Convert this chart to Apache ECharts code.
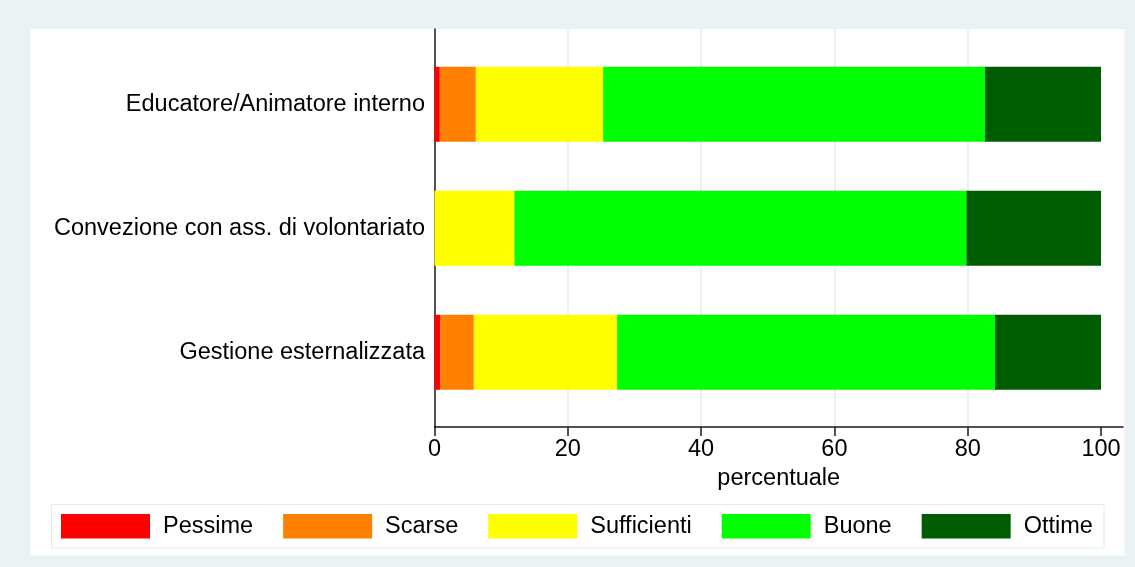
<!DOCTYPE html>
<html>
<head>
<meta charset="utf-8">
<script src="https://cdn.jsdelivr.net/npm/echarts@6/dist/echarts.min.js"></script>
<style>
  html, body { margin: 0; padding: 0; background: #eaf2f3; }
  #chart { width: 1135px; height: 567px; }
</style>
</head>
<body>
<div id="chart"></div>
<script>
// dati (percentuali)
var categories = ['Educatore/Animatore interno', 'Convezione con ass. di volontariato', 'Gestione esternalizzata']
var levels = ['Pessime', 'Scarse', 'Sufficienti', 'Buone', 'Ottime']
var pessime = [0.8, 0, 0.9]
var scarse = [5.4, 0, 5.0]
var sufficienti = [19.1, 12.0, 21.5]
var buone = [57.3, 67.8, 56.7]
var ottime = [17.4, 20.2, 15.9]
var xTicks = [0, 20, 40, 60, 80, 100]

var colors = ['#ff0000', '#ff8000', '#ffff00', '#00ff00', '#005c00']
var font = 'Liberation Sans, Arial, Helvetica, sans-serif'
var xMax = 103.3

var chart = echarts.init(document.getElementById('chart'))

function barSeries(name, values) {
  return {
    name: name,
    type: 'bar',
    stack: 'tot',
    barWidth: 75,
    xAxisIndex: 0,
    yAxisIndex: 0,
    data: values,
    itemStyle: { borderWidth: 0 },
    emphasis: { disabled: true }
  }
}

var option = {
  backgroundColor: '#eaf2f3',
  animation: false,
  color: colors,
  textStyle: { fontFamily: font },
  graphic: [
    { type: 'rect', z: -10, shape: { x: 30.5, y: 29, width: 1094, height: 526.5 }, style: { fill: '#ffffff' } },
    { type: 'rect', z: -9, shape: { x: 51.5, y: 504.5, width: 1052.5, height: 43.5 }, style: { fill: '#ffffff', stroke: '#e2ebee', lineWidth: 1 } }
  ],
  grid: [
    // barre
    { left: 434.5, right: 12, top: 42.3, bottom: 152.7 },
    // assi
    { left: 434.5, right: 12, top: 29, bottom: 140 }
  ],
  legend: {
    data: levels,
    left: 61,
    top: 514,
    padding: 0,
    itemWidth: 89,
    itemHeight: 24.5,
    itemGap: 30,
    icon: 'rect',
    selectedMode: false,
    textStyle: { fontSize: 23.5, color: '#000', fontFamily: font, padding: [0, 0, 0, 8] }
  },
  xAxis: [
    {
      gridIndex: 0, type: 'value', min: 0, max: xMax, show: false
    },
    {
      gridIndex: 1, type: 'value', min: 0, max: xMax, interval: 20,
      name: 'percentuale', nameLocation: 'middle', nameGap: 38.5,
      nameTextStyle: { fontSize: 23.5, color: '#000', fontFamily: font },
      axisLine: { show: true, onZero: false, lineStyle: { color: '#1a1a1a', width: 1.5 } },
      axisTick: { show: true, length: 9, customValues: xTicks, lineStyle: { color: '#1a1a1a', width: 1.5 } },
      axisLabel: { fontSize: 23.5, color: '#000', margin: 11, customValues: xTicks, fontFamily: font },
      splitLine: { show: true, showMinLine: false, showMaxLine: false, lineStyle: { color: '#e3ecef', width: 1.5 } }
    }
  ],
  yAxis: [
    {
      gridIndex: 0, type: 'category', data: categories, inverse: true,
      axisLine: { show: false },
      axisTick: { show: false },
      axisLabel: { fontSize: 23.5, color: '#000', margin: 9.5, fontFamily: font, padding: [5, 0, 0, 0] },
      splitLine: { show: false }
    },
    {
      gridIndex: 1, type: 'value', min: 0, max: 1,
      axisLine: { show: true, onZero: false, lineStyle: { color: '#1a1a1a', width: 1.5 } },
      axisTick: { show: false },
      axisLabel: { show: false },
      splitLine: { show: false }
    }
  ],
  series: [
    barSeries('Pessime', pessime),
    barSeries('Scarse', scarse),
    barSeries('Sufficienti', sufficienti),
    barSeries('Buone', buone),
    barSeries('Ottime', ottime)
  ]
}

chart.setOption(option)
</script>
</body>
</html>
